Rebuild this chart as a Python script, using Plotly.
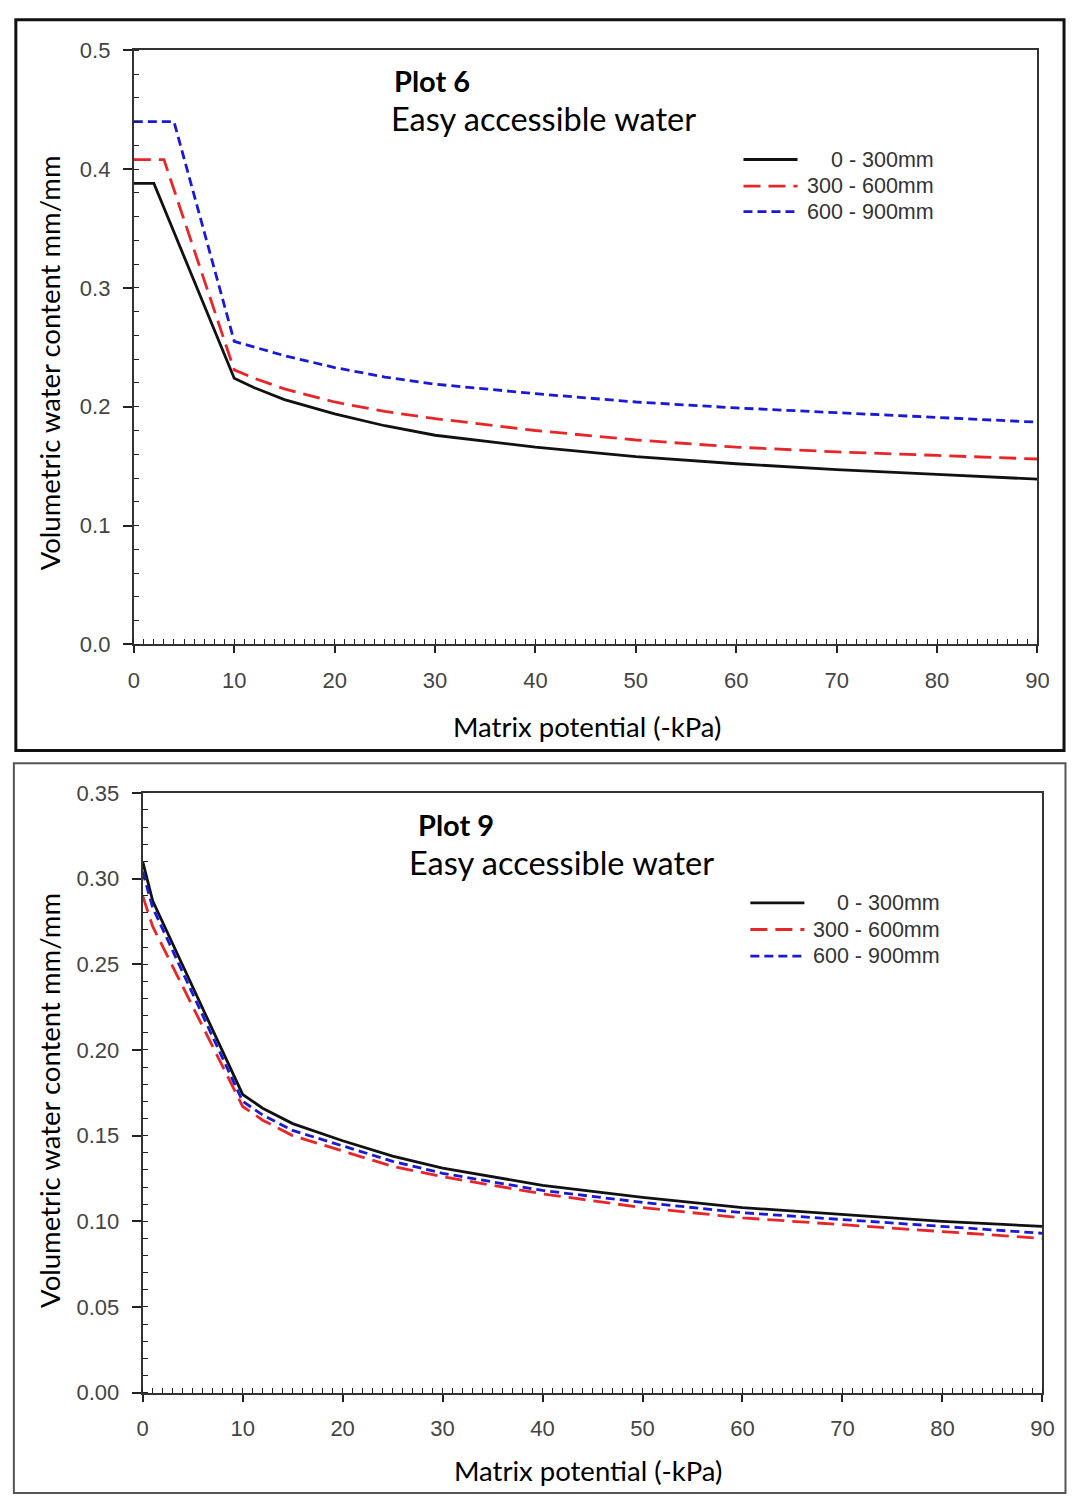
import plotly.graph_objects as go

W, H = 1077, 1505

# ---------------- data ----------------
depth_labels = ["0 - 300mm", "300 - 600mm", "600 - 900mm"]

p6_tail_x = [10, 12, 15, 20, 25, 30, 40, 50, 60, 70, 80, 90]
p6_x_black = [0, 2] + p6_tail_x
p6_x_red = [0, 3] + p6_tail_x
p6_x_blue = [0, 4] + p6_tail_x
p6_black = [0.388, 0.388, 0.224, 0.216, 0.206, 0.194, 0.184, 0.176, 0.166, 0.158, 0.152, 0.147, 0.143, 0.139]
p6_red = [0.408, 0.408, 0.231, 0.224, 0.215, 0.204, 0.196, 0.190, 0.180, 0.172, 0.166, 0.162, 0.159, 0.156]
p6_blue = [0.440, 0.440, 0.255, 0.250, 0.243, 0.233, 0.225, 0.219, 0.211, 0.204, 0.199, 0.195, 0.191, 0.187]

p9_x = [0, 1, 10, 12, 15, 20, 25, 30, 40, 50, 60, 70, 80, 90]
p9_black = [0.310, 0.287, 0.174, 0.166, 0.157, 0.147, 0.138, 0.131, 0.121, 0.114, 0.108, 0.104, 0.100, 0.097]
p9_red = [0.290, 0.272, 0.167, 0.159, 0.150, 0.141, 0.132, 0.126, 0.116, 0.108, 0.102, 0.098, 0.094, 0.090]
p9_blue = [0.304, 0.283, 0.170, 0.162, 0.153, 0.144, 0.135, 0.128, 0.118, 0.111, 0.105, 0.101, 0.097, 0.093]

x_ticks = [0, 10, 20, 30, 40, 50, 60, 70, 80, 90]
p6_y_ticks = [0.0, 0.1, 0.2, 0.3, 0.4, 0.5]
p9_y_ticks = [0.00, 0.05, 0.10, 0.15, 0.20, 0.25, 0.30, 0.35]

# ---------------- styles ----------------
STY = [
    dict(color="#111111", width=2.8, dash="solid"),
    dict(color="#e8262a", width=2.8, dash="17px,8px"),
    dict(color="#1a1ad6", width=2.8, dash="9px,5px"),
]


def px(x):
    return x / W


def py(y):
    return 1 - y / H


fig = go.Figure()

series6 = [(p6_x_black, p6_black), (p6_x_red, p6_red), (p6_x_blue, p6_blue)]
series9 = [(p9_x, p9_black), (p9_x, p9_red), (p9_x, p9_blue)]

for i, (xs, ys) in enumerate(series6):
    fig.add_trace(go.Scatter(x=xs, y=ys, mode="lines", name=depth_labels[i],
                             line=STY[i], xaxis="x", yaxis="y", showlegend=False))
for i, (xs, ys) in enumerate(series9):
    fig.add_trace(go.Scatter(x=xs, y=ys, mode="lines", name=depth_labels[i],
                             line=STY[i], xaxis="x2", yaxis="y2", showlegend=False))

tickfont = dict(family="Liberation Sans, Arial", size=22, color="#444444")


def xaxis(domain, anchor):
    return dict(domain=domain, anchor=anchor, range=[0, 90], tickvals=x_ticks,
                ticks="outside", ticklen=7, tickwidth=1.5, tickcolor="#222",
                showline=True, linecolor="#333", linewidth=2, mirror=True,
                showgrid=False, zeroline=False, tickfont=tickfont,
                ticklabelstandoff=8,
                minor=dict(dtick=1, ticks="inside", ticklen=5, tickwidth=1.2,
                           tickcolor="#222", showgrid=False))


def yaxis(domain, anchor, rng, vals, fmt, mdt):
    return dict(domain=domain, anchor=anchor, range=rng, tickvals=vals,
                ticktext=[fmt.format(v) for v in vals],
                ticks="outside", ticklen=9, tickwidth=1.5, tickcolor="#222",
                showline=True, linecolor="#333", linewidth=2, mirror=True,
                showgrid=False, zeroline=False, tickfont=tickfont,
                ticklabelstandoff=8,
                minor=dict(dtick=mdt, ticks="inside", ticklen=5, tickwidth=1.2,
                           tickcolor="#222", showgrid=False))


fig.update_layout(
    width=W, height=H, margin=dict(l=0, r=0, t=0, b=0),
    paper_bgcolor="white", plot_bgcolor="white",
    xaxis=xaxis([px(130), px(1049)], "y"),
    yaxis=yaxis([py(643), py(39)], "x", [0, 0.5], p6_y_ticks, "{:.1f}", 0.02),
    xaxis2=xaxis([px(139), px(1054)], "y2"),
    yaxis2=yaxis([py(1404), py(794)], "x2", [0, 0.35], p9_y_ticks, "{:.2f}", 0.01),
    showlegend=False,
)

shapes = []
annots = []

# outer boxes
shapes.append(dict(type="rect", xref="paper", yref="paper",
                   x0=px(10), x1=px(1076), y0=py(751), y1=py(8),
                   line=dict(color="#111", width=3), fillcolor="rgba(0,0,0,0)"))
shapes.append(dict(type="rect", xref="paper", yref="paper",
                   x0=px(8), x1=px(1077.5), y0=py(1506), y1=py(764),
                   line=dict(color="#555", width=2), fillcolor="rgba(0,0,0,0)"))

title_font = "Lato, Noto Sans, sans-serif"

# titles and labels per panel
panels = [
    dict(name="Plot 6", tx=393, ty=70, sx=390, sy=108, ytx=44, yty=357, xtx=591, xty=727,
         lx0=750, lx1=805, ly=[150, 177, 203], ltx=946),
    dict(name="Plot 9", tx=417, ty=826, sx=408, sy=865, ytx=44, yty=1107, xtx=592, xty=1483,
         lx0=757, lx1=812, ly=[906, 933, 960], ltx=952),
]
for p in panels:
    annots.append(dict(xref="paper", yref="paper", x=px(p["tx"]), y=py(p["ty"]),
                       xanchor="left", yanchor="middle", showarrow=False,
                       text="<b>" + p["name"] + "</b>",
                       font=dict(family=title_font, size=29, color="black")))
    annots.append(dict(xref="paper", yref="paper", x=px(p["sx"]), y=py(p["sy"]),
                       xanchor="left", yanchor="middle", showarrow=False,
                       text="Easy accessible water",
                       font=dict(family=title_font, size=32.5, color="black")))
    annots.append(dict(xref="paper", yref="paper", x=px(p["ytx"]), y=py(p["yty"]),
                       xanchor="center", yanchor="middle", showarrow=False,
                       textangle=-90, text="Volumetric water content mm/mm",
                       font=dict(family=title_font, size=27.5, color="black")))
    annots.append(dict(xref="paper", yref="paper", x=px(p["xtx"]), y=py(p["xty"]),
                       xanchor="center", yanchor="middle", showarrow=False,
                       text="Matrix potential (-kPa)",
                       font=dict(family=title_font, size=27.5, color="black")))
    for i, yy in enumerate(p["ly"]):
        shapes.append(dict(type="line", xref="paper", yref="paper",
                           x0=px(p["lx0"]), x1=px(p["lx1"]), y0=py(yy), y1=py(yy),
                           line=STY[i]))
        annots.append(dict(xref="paper", yref="paper", x=px(p["ltx"]), y=py(yy),
                           xanchor="right", yanchor="middle", showarrow=False,
                           text=depth_labels[i],
                           font=dict(family="Liberation Sans, Arial", size=21.5, color="#333")))

fig.update_layout(shapes=shapes, annotations=annots)

fig.write_html("out.html",
               post_script="document.body.style.margin='0';document.body.style.overflow='hidden';")
